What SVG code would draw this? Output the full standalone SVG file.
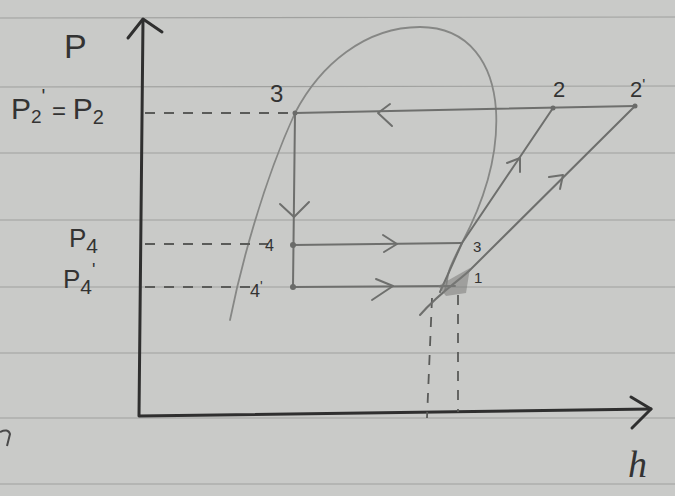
<svg xmlns="http://www.w3.org/2000/svg" width="675" height="496" viewBox="0 0 675 496">
<style>
.rule{stroke:#8f908e;stroke-width:1.2;opacity:0.7}
.axis{stroke:#2f2f2f;stroke-width:3;fill:none;stroke-linecap:round;stroke-linejoin:round}
.pen{stroke:#6e6f6d;stroke-width:2;fill:none;stroke-linecap:round;stroke-linejoin:round}
.dome{stroke:#868785;stroke-width:1.8;fill:none;stroke-linecap:round}
.dash{stroke:#5a5b59;stroke-width:1.8;fill:none;stroke-dasharray:10 9}
.lbl{font-family:"Liberation Sans",Arial,sans-serif;fill:#333333}
.pt{fill:#6a6b69}
</style>
<rect width="675" height="496" fill="#c9cac8"/>
<g id="paper">
<line class="rule" x1="0" y1="18" x2="675" y2="17"/>
<line class="rule" x1="0" y1="87" x2="675" y2="86"/>
<line class="rule" x1="0" y1="153" x2="675" y2="153"/>
<line class="rule" x1="0" y1="220" x2="675" y2="220"/>
<line class="rule" x1="0" y1="287" x2="675" y2="287"/>
<line class="rule" x1="0" y1="353" x2="675" y2="353"/>
<line class="rule" x1="0" y1="418" x2="675" y2="418"/>
<line class="rule" x1="0" y1="484" x2="675" y2="484"/>
<path d="M0 432 Q8 428 10 434 L7 446" stroke="#4a4a4a" stroke-width="2" fill="none"/>
</g>
<g id="axes">
<path class="axis" d="M143 20 L139 416 L651 409"/>
<path class="axis" d="M128 38 L143 19 L162 32"/>
<path class="axis" d="M631 397 L651 409 L632 428"/>
<text class="lbl" x="64" y="58" font-size="34">P</text>
<text x="628" y="477" font-family="'Liberation Serif',serif" font-style="italic" font-size="38" fill="#333333">h</text>
</g>
<g id="labels">
<text class="lbl" x="11" y="119" font-size="30">P<tspan font-size="19" dy="4">2</tspan><tspan font-size="20" dy="-20">'</tspan><tspan font-size="24" dy="16"> = </tspan><tspan font-size="30">P</tspan><tspan font-size="20" dy="5">2</tspan></text>
<text class="lbl" x="69" y="247" font-size="26">P<tspan font-size="21" dy="6">4</tspan></text>
<text class="lbl" x="63" y="288" font-size="26">P<tspan font-size="21" dy="6">4</tspan><tspan font-size="18" dy="-18">'</tspan></text>
</g>
<g id="dome">
<path class="dome" d="M230 320 C240 270 262 185 295 113 C320 65 365 27 420 27 C470 27 493 65 496 110 C499 160 482 205 462 243 S450 275 445 290"/>
</g>
<g id="connectors">
<path class="dash" d="M145 113 L290 113"/>
<path class="dash" d="M145 244 L268 244"/>
<path class="dash" d="M145 287 L250 287"/>
<path class="dash" d="M432 298 L427 418"/>
<path class="dash" d="M458 295 L458 412"/>
<path class="pen" d="M295 113 L635 106"/>
<path class="pen" d="M390 104 L378 113 L392 126"/>
<path class="pen" d="M295 113 L293 287"/>
<path class="pen" d="M280 204 L294 217 L309 202"/>
<path class="pen" d="M293 245 L462 243"/>
<path class="pen" d="M383 235 L397 244 L384 252"/>
<path class="pen" d="M293 287 L455 286"/>
<path class="pen" d="M376 279 L393 286 L372 300"/>
<path class="pen" d="M553 108 L462 243 L440 292"/>
<path class="pen" d="M507 163 L520 158 L520 172"/>
<path class="pen" d="M635 106 L470 270 C460 280 440 292 420 315"/>
<path class="pen" d="M549 177 L563 175 L560 189"/>
<path d="M438 286 L470 268 L466 293 L446 296 Z" fill="#7b7c7a" opacity="0.55"/>
</g>
<g id="node-3">
<circle class="pt" cx="295" cy="113" r="2.5"/>
<text class="lbl" x="270" y="102" font-size="24">3</text>
</g>
<g id="node-2">
<circle class="pt" cx="553" cy="108" r="2.5"/>
<text class="lbl" x="553" y="97" font-size="22">2</text>
</g>
<g id="node-2p">
<circle class="pt" cx="635" cy="106" r="2.5"/>
<text class="lbl" x="630" y="97" font-size="22">2<tspan font-size="16" dy="-6">'</tspan></text>
</g>
<g id="node-4">
<circle class="pt" cx="293" cy="245" r="3"/>
<text class="lbl" x="265" y="251" font-size="16">4</text>
</g>
<g id="node-4p">
<circle class="pt" cx="293" cy="287" r="3"/>
<text class="lbl" x="250" y="297" font-size="18">4<tspan font-size="14" dy="-6">'</tspan></text>
</g>
<g id="node-1">
<text class="lbl" x="473" y="252" font-size="15">3</text>
<text class="lbl" x="474" y="283" font-size="15">1</text>
</g>
</svg>
